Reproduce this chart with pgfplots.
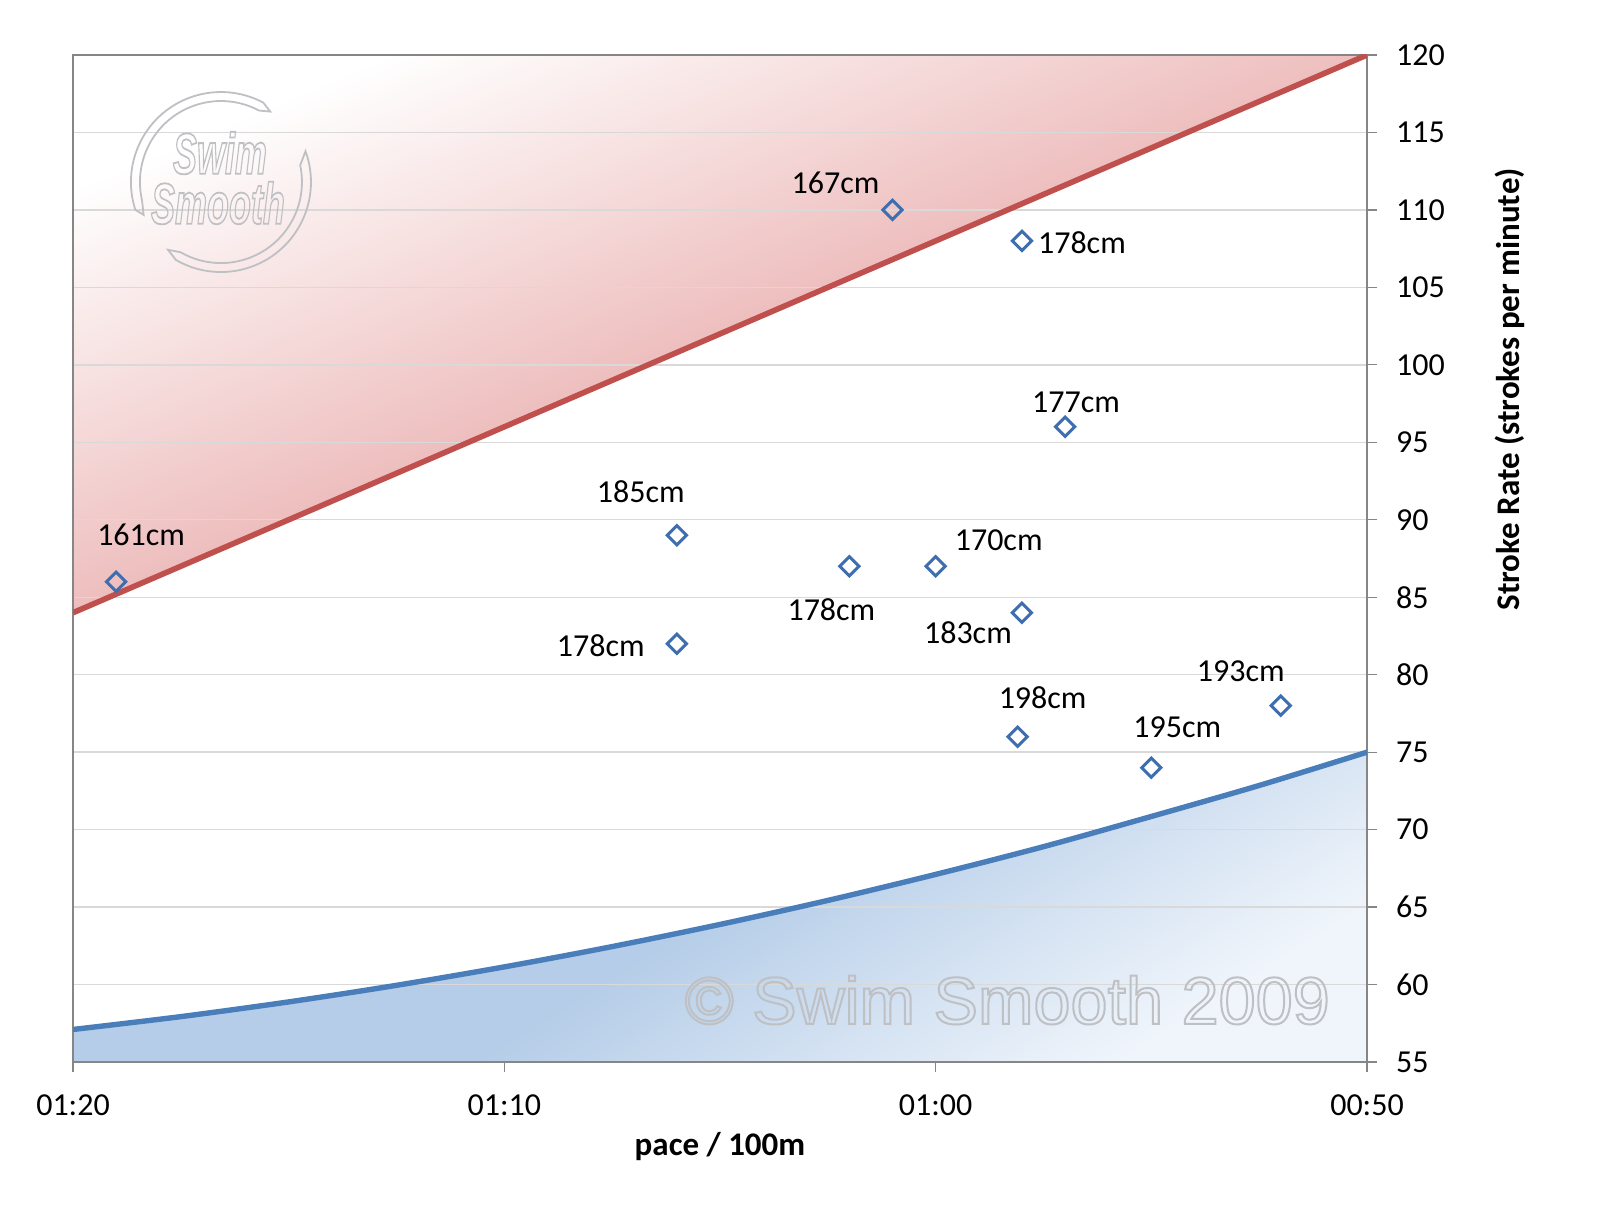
\documentclass[border=0pt]{standalone}
\usepackage{fontspec}
\setmainfont{Carlito}
\newfontfamily\wmfont{Liberation Sans}
\usepackage{pgfplots}
\pgfplotsset{compat=1.18}
\usepackage{pgfplotstable}
\definecolor{redline}{RGB}{192,80,77}
\definecolor{redmid}{RGB}{238,190,190}
\definecolor{redfill}{RGB}{234,182,182}
\definecolor{blueline}{RGB}{74,126,187}
\definecolor{bluefill}{RGB}{181,205,232}
\definecolor{bluelight}{RGB}{240,245,251}
\definecolor{markblue}{RGB}{62,110,176}
\definecolor{axgray}{RGB}{134,134,134}
\definecolor{gridgray}{RGB}{217,217,217}
\definecolor{wm}{RGB}{190,192,196}

\pgfplotstableread{
x y dx dy lab
79 86 12.5 23.5 161cm
66 89 -18 22 185cm
66 82 -38 -1 178cm
62 87 -9 -21.5 178cm
61 110 -28.5 13.5 167cm
60 87 31.5 13 170cm
58 84 -27 -10 183cm
58 108 30 -1 178cm
57 96 5.5 12.5 177cm
58.1 76 12.5 19.5 198cm
55 74 13 20 195cm
52 78 -20 17 193cm
}\swimmers

\newcommand\outlined[2]{\special{pdf:literal direct 1 Tr #1 w}#2\special{pdf:literal direct 0 Tr}}
\newcommand\lblfont{\fontsize{16}{19}\selectfont}
\newcommand\titfont{\fontsize{16.5}{19}\selectfont\bfseries}

\begin{document}
\begin{tikzpicture}
\begin{axis}[
  at={(36.5pt,80.5pt)}, anchor=south west,
  width=647pt, height=503.5pt, scale only axis,
  set layers,
  x dir=reverse,
  xmin=50, xmax=80, ymin=55, ymax=120,
  xtick={80,70,60,50}, xticklabels={01:20,01:10,01:00,00:50},
  ytick={55,60,...,120},
  xtick pos=left, ytick pos=right, yticklabel pos=right,
  tick align=outside, major tick length=5pt,
  tick style={axgray, line width=0.6pt},
  axis line style={axgray, line width=1pt},
  ymajorgrids, grid style={gridgray, line width=0.7pt},
  /pgf/number format/assume math mode=true,
  tick label style={font=\lblfont, text=black},
  xticklabel style={yshift=-8pt},
  yticklabel style={xshift=6pt},
  clip mode=individual,
]
% shaded areas
\addplot[on layer=axis background, draw=none, top color=white, bottom color=redfill, middle color=redmid, shading angle=23]
  coordinates {(80,84) (50,120) (80,120)} -- cycle;
\addplot[on layer=axis background, draw=none, top color=bluefill, bottom color=bluelight, middle color=bluefill, shading angle=32]
  coordinates {(80,55) (80,57.1) (77.5,57.93) (75,58.88) (72.5,59.95) (70,61.14) (67.5,62.45) (65,63.88) (62.5,65.43) (60,67.11) (57.5,68.9) (55,70.85) (52.5,72.85) (50,75.0) (50,55)} -- cycle;
% watermark text
\node[text=wm, font=\wmfont\fontsize{33.3}{36}\selectfont] at (axis cs:58.34,59) {\outlined{1}{\textcopyright{} Swim Smooth 2009}};
\coordinate (logo) at (axis cs:76.57,111.8);
% boundary lines
\addplot[redline, line width=2.8pt] coordinates {(80,84) (50,120)};
\addplot[blueline, line width=2.7pt, smooth] coordinates {(80,57.1) (77.5,57.93) (75,58.88) (72.5,59.95) (70,61.14) (67.5,62.45) (65,63.88) (62.5,65.43) (60,67.11) (57.5,68.9) (55,70.85) (52.5,72.85) (50,75.0)};
% swimmers
\addplot[only marks, mark=square, mark size=3.4pt,
  mark options={rotate=45, draw=markblue, line width=1.5pt},
  point meta=explicit symbolic,
  visualization depends on={\thisrow{dx} \as \dx},
  visualization depends on={\thisrow{dy} \as \dy},
  nodes near coords,
  nodes near coords style={anchor=center, xshift=\dx pt, yshift=\dy pt, font=\lblfont, text=black},
] table[x=x, y=y, meta=lab] {\swimmers};
\node[rotate=90, font=\titfont] at (axis description cs:1.1105,0.668) {Stroke Rate (strokes per minute)};
\node[font=\titfont] at (axis description cs:0.5,-0.0844) {pace / 100m};
\end{axis}
% logo watermark
\begin{scope}[shift={(logo)}, draw=wm, line width=0.9pt]
  \draw (203:42pt) -- (198:45pt) arc[start angle=198, end angle=62, radius=45pt] -- (55:43pt) -- (62:40.5pt) arc[start angle=62, end angle=193, radius=40.5pt] -- cycle;
  \draw (15:42pt) -- (20:45pt) arc[start angle=20, end angle=-120, radius=45pt] -- (-128:43pt) -- (-120:40.5pt) arc[start angle=-120, end angle=12, radius=40.5pt] -- cycle;
  \node[inner sep=0pt, text=wm, font=\wmfont\bfseries\itshape\fontsize{29}{30}\selectfont, xscale=0.62] at (-0.5pt,14.5pt) {\outlined{0.9}{Swim}};
  \node[inner sep=0pt, text=wm, font=\wmfont\bfseries\itshape\fontsize{29}{30}\selectfont, xscale=0.62] at (-1.5pt,-10.5pt) {\outlined{0.9}{Smooth}};
\end{scope}
\pgfresetboundingbox
\useasboundingbox (0,0) rectangle (800pt,611.5pt);
\end{tikzpicture}
\end{document}
